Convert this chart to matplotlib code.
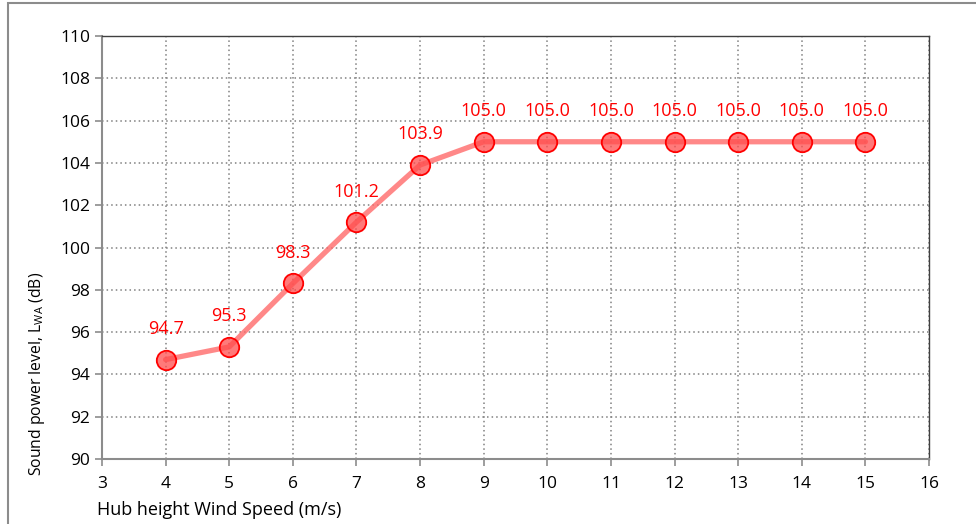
import matplotlib.pyplot as plt
from matplotlib.patches import Rectangle

plt.rcParams['font.family'] = ['Open Sans', 'DejaVu Sans']
plt.rcParams['mathtext.fontset'] = 'custom'
plt.rcParams['mathtext.rm'] = 'Open Sans'
plt.rcParams['mathtext.it'] = 'Open Sans'

wind_speed = [4, 5, 6, 7, 8, 9, 10, 11, 12, 13, 14, 15]
sound_level = [94.7, 95.3, 98.3, 101.2, 103.9, 105.0, 105.0, 105.0, 105.0, 105.0, 105.0, 105.0]
x_ticks = list(range(3, 17))
y_ticks = list(range(90, 111, 2))

fig = plt.figure(figsize=(9.76, 5.24), dpi=100)
ax = fig.add_axes([102 / 976, 1 - 459 / 524, (929 - 102) / 976, (459 - 36) / 524])

# outer frame like the Excel chart area
fig.patches.append(Rectangle((8 / 976, -0.1), 1.2, (524 - 3) / 524 + 0.1,
                             transform=fig.transFigure, fill=False,
                             edgecolor='#8c8c8c', linewidth=1.5))

ax.plot(wind_speed, sound_level, color='#ff6b6b', alpha=0.8, linewidth=3.8,
        solid_capstyle='round', zorder=3)
ax.plot(wind_speed, sound_level, linestyle='none', marker='o', markersize=14,
        markerfacecolor=(1, 0.3, 0.3, 0.75), markeredgecolor='#ff0000',
        markeredgewidth=1.3, zorder=4)

for x, y in zip(wind_speed, sound_level):
    ax.annotate(f'{y:.1f}', (x, y), xytext=(0, 22), textcoords='offset points',
                ha='center', va='center', color='#ff0000', fontsize=13, zorder=5)

ax.set_xlim(3, 16)
ax.set_ylim(90, 110)
ax.set_xticks(x_ticks)
ax.set_yticks(y_ticks)
ax.grid(True, linestyle=(0, (1, 2)), color='#808080', linewidth=1.1)
ax.set_axisbelow(True)

for s in ['left', 'bottom']:
    ax.spines[s].set_color('#8c8c8c')
    ax.spines[s].set_linewidth(1.5)
for s in ['top', 'right']:
    ax.spines[s].set_color('#404040')
    ax.spines[s].set_linewidth(1.0)

ax.tick_params(axis='both', colors='#8c8c8c', labelcolor='#000000', labelsize=12.5,
               length=5, width=1.2, direction='out')
ax.tick_params(axis='x', pad=7)

ax.set_xlabel('Hub height Wind Speed (m/s)', fontsize=13, loc='left', labelpad=2)
ax.xaxis.set_label_coords(-0.006, -0.1)
ax.set_ylabel('Sound power level, L$_{\\mathrm{WA}}$ (dB)', fontsize=11.3)
ax.yaxis.set_label_coords(-0.066, 0.2)

fig.savefig('out.png', dpi=100)
